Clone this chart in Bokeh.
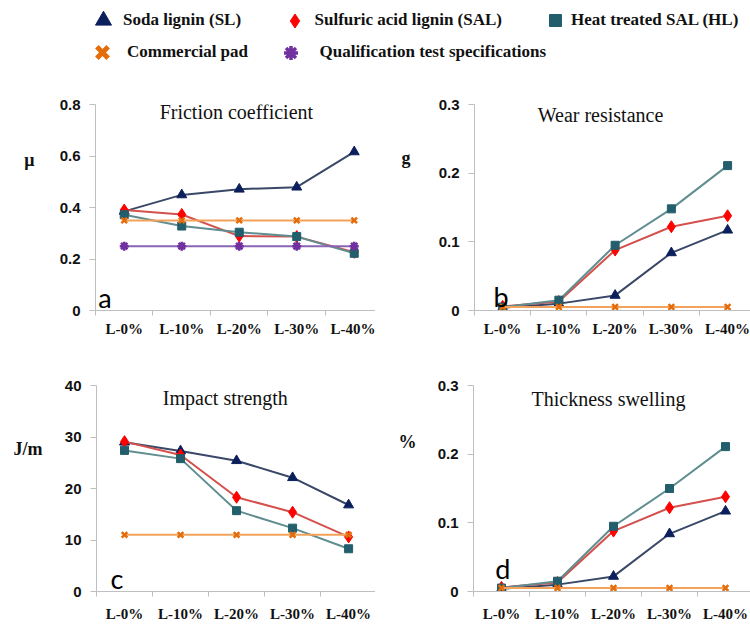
from bokeh.plotting import figure
from bokeh.models import Range1d, FixedTicker, Label, Legend, LegendItem, LinearAxis
from bokeh.layouts import column, row
from bokeh.embed import file_html
from bokeh.resources import INLINE

# ---------------- data ----------------
categories = ["L-0%", "L-10%", "L-20%", "L-30%", "L-40%"]

friction_sl = [0.385, 0.449, 0.471, 0.479, 0.616]
friction_sal = [0.390, 0.373, 0.289, 0.287, 0.226]
friction_hl = [0.372, 0.328, 0.304, 0.287, 0.222]
friction_commercial = [0.35, 0.35, 0.35, 0.35, 0.35]
friction_qualification = [0.25, 0.25, 0.25, 0.25, 0.25]

wear_sl = [0.004, 0.010, 0.022, 0.084, 0.117]
wear_sal = [0.006, 0.013, 0.088, 0.122, 0.138]
wear_hl = [0.005, 0.015, 0.095, 0.148, 0.211]
wear_commercial = [0.005, 0.005, 0.005, 0.005, 0.005]

impact_sl = [29.0, 27.3, 25.4, 22.1, 16.8]
impact_sal = [29.1, 26.5, 18.3, 15.4, 10.6]
impact_hl = [27.4, 25.8, 15.7, 12.3, 8.3]
impact_commercial = [11.0, 11.0, 11.0, 11.0, 11.0]

swelling_sl = [0.004, 0.010, 0.022, 0.084, 0.117]
swelling_sal = [0.006, 0.013, 0.088, 0.122, 0.138]
swelling_hl = [0.005, 0.015, 0.095, 0.150, 0.211]
swelling_commercial = [0.005, 0.005, 0.005, 0.005, 0.005]

series_names = ["Soda lignin (SL)", "Sulfuric acid lignin (SAL)", "Heat treated SAL (HL)",
                "Commercial pad", "Qualification test specifications"]

# ---------------- styles ----------------
STYLE = {
    "sl": dict(marker="triangle", fill="#0B1F5C", line="#3A4868", size=10),
    "sal": dict(marker="diamond", fill="#FF0000", line="#D4504C", size=12),
    "hl": dict(marker="square", fill="#225E6C", line="#5F8D90", size=8),
    "com": dict(marker="x", fill="#E46C0A", line="#F2A25A", size=8),
    "qual": dict(marker="asterisk", fill="#7030A0", line="#8A64B4", size=9),
}
AXIS_GRAY = "#BFBFBF"
xs = [i + 0.5 for i in range(len(categories))]


def make_panel(width, height, left, top, bottom, x_end, y_end, y_ticks, standoff):
    p = figure(width=width, height=height,
               x_range=Range1d(0, x_end), y_range=Range1d(0, y_end),
               output_backend="svg", toolbar_location=None,
               min_border_left=left, min_border_right=0,
               min_border_top=top, min_border_bottom=bottom)
    p.outline_line_color = None
    p.grid.visible = False
    p.background_fill_color = "white"
    p.border_fill_color = "white"

    xa = p.xaxis[0]
    xa.ticker = FixedTicker(ticks=xs, minor_ticks=[0, 1, 2, 3, 4, 5])
    xa.major_label_overrides = {x: c for x, c in zip(xs, categories)}
    xa.major_tick_in = 0
    xa.major_tick_out = 0
    xa.minor_tick_in = 0
    xa.minor_tick_out = 5
    xa.axis_line_color = AXIS_GRAY
    xa.minor_tick_line_color = AXIS_GRAY
    xa.major_label_text_font = "Liberation Serif"
    xa.major_label_text_font_style = "bold"
    xa.major_label_text_font_size = "15px"
    xa.major_label_text_color = "#111111"
    xa.major_label_standoff = standoff

    ya = p.yaxis[0]
    ya.ticker = FixedTicker(ticks=y_ticks)
    ya.major_label_overrides = {0: "0"}
    ya.bounds = (y_ticks[0], y_ticks[-1])
    ya.minor_tick_line_color = None
    ya.major_tick_in = 0
    ya.major_tick_out = 6
    ya.axis_line_color = AXIS_GRAY
    ya.major_tick_line_color = AXIS_GRAY
    ya.major_label_text_font = "Liberation Sans"
    ya.major_label_text_font_style = "bold"
    ya.major_label_text_font_size = "15px"
    ya.major_label_text_color = "#111111"
    ya.major_label_standoff = 9
    return p


def add_series(p, values, key):
    s = STYLE[key]
    p.line(xs, values, line_color=s["line"], line_width=2)
    if s["marker"] in ("x", "asterisk"):
        p.scatter(xs, values, marker=s["marker"], size=s["size"],
                  line_color=s["fill"], line_width=2.5)
    else:
        p.scatter(xs, values, marker=s["marker"], size=s["size"],
                  fill_color=s["fill"], line_color=s["fill"])


def add_texts(p, title, tx, ty, unit, unit_y, unit_standoff, letter, lx, ly):
    p.add_layout(Label(x=tx, y=ty, text=title, text_font="Liberation Serif",
                       text_font_size="20px", text_align="center",
                       text_baseline="middle", text_color="#111111"))
    p.add_layout(Label(x=lx, y=ly, text=letter, text_font="Lato",
                       text_font_size="27px", text_align="left",
                       text_baseline="alphabetic", text_color="#000000"))
    # unit symbol, shown as the single label of an outer left axis
    ua = LinearAxis(ticker=FixedTicker(ticks=[unit_y]),
                    major_label_overrides={unit_y: unit},
                    axis_line_color=None, major_tick_line_color=None,
                    minor_tick_line_color=None, major_tick_out=0, major_tick_in=0,
                    major_label_standoff=unit_standoff,
                    major_label_text_font="Liberation Serif",
                    major_label_text_font_style="bold",
                    major_label_text_font_size="18px",
                    major_label_text_color="#111111")
    p.add_layout(ua, "left")


# ---------------- panels ----------------
pa = make_panel(375, 285, 95, 26, 53, 4.87, 0.8, [0, 0.2, 0.4, 0.6, 0.8], 5)
add_series(pa, friction_sl, "sl")
add_series(pa, friction_sal, "sal")
add_series(pa, friction_hl, "hl")
add_series(pa, friction_commercial, "com")
add_series(pa, friction_qualification, "qual")
add_texts(pa, "Friction coefficient", 2.45, 0.769, "\u03bc", 0.583, 22, "a", 0.05, 0.05)

pb = make_panel(375, 285, 99, 22, 52, 4.907, 0.3, [0, 0.1, 0.2, 0.3], 5)
add_series(pb, wear_sl, "sl")
add_series(pb, wear_sal, "sal")
add_series(pb, wear_hl, "hl")
add_series(pb, wear_commercial, "com")
add_texts(pb, "Wear resistance", 2.24, 0.284, "g", 0.222, 25, "b", 0.34, 0.02)

pc = make_panel(375, 261, 96, 22, 29, 4.98, 40, [0, 10, 20, 30, 40], 9)
add_series(pc, impact_sl, "sl")
add_series(pc, impact_sal, "sal")
add_series(pc, impact_hl, "hl")
add_series(pc, impact_commercial, "com")
add_texts(pc, "Impact strength", 2.30, 37.5, "J/m", 27.6, 19, "c", 0.25, 2.5)

pd_ = make_panel(375, 261, 98, 22, 28, 4.946, 0.3, [0, 0.1, 0.2, 0.3], 9)
add_series(pd_, swelling_sl, "sl")
add_series(pd_, swelling_sal, "sal")
add_series(pd_, swelling_hl, "hl")
add_series(pd_, swelling_commercial, "com")
add_texts(pd_, "Thickness swelling", 2.41, 0.280, "%", 0.2175, 18, "d", 0.39, 0.033)

# ---------------- legend strip ----------------
leg = figure(width=750, height=78, x_range=Range1d(10, 11), y_range=Range1d(10, 11),
             output_backend="svg", toolbar_location=None,
             min_border_left=0, min_border_right=0, min_border_top=0, min_border_bottom=0)
leg.axis.visible = False
leg.grid.visible = False
leg.outline_line_color = None

# (key, first value of the series, name, box size, location, standoff)
legend_specs = [
    ("sl", friction_sl[0], series_names[0], 40, (83, 38), 0),
    ("sal", friction_sal[0], series_names[1], 35, (276.5, 40.5), 3),
    ("hl", friction_hl[0], series_names[2], 30, (540, 43), 1),
    ("com", friction_commercial[0], series_names[3], 40, (82, 6), 5),
    ("qual", friction_qualification[0], series_names[4], 35, (272.5, 8.5), 12),
]
for key, v0, name, box, loc, so in legend_specs:
    s = STYLE[key]
    if s["marker"] in ("x", "asterisk"):
        r = leg.scatter([xs[0]], [v0], marker=s["marker"], line_color=s["fill"],
                        line_width=5 if key == "com" else 3.5)
    else:
        r = leg.scatter([xs[0]], [v0], marker=s["marker"], fill_color=s["fill"], line_color=s["fill"])
    lg = Legend(items=[LegendItem(label=name, renderers=[r])], location=loc,
                glyph_width=box, glyph_height=box, label_height=box,
                label_standoff=so, padding=0, margin=0, spacing=0,
                border_line_color=None, background_fill_alpha=0,
                label_text_font="Liberation Serif", label_text_font_style="bold",
                label_text_font_size="17px", label_text_color="#111111")
    leg.add_layout(lg, "center")

layout = column(leg, row(pa, pb), row(pc, pd_))
open("out.html", "w").write(file_html(layout, INLINE))
